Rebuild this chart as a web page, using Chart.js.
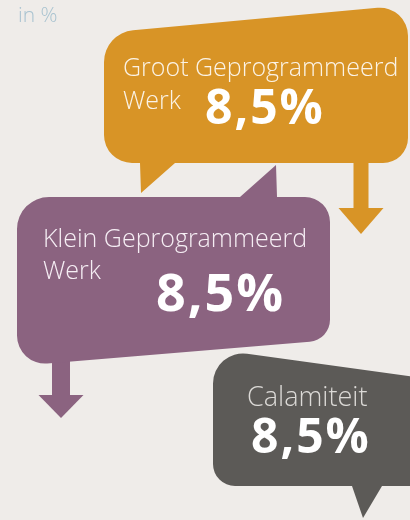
<!DOCTYPE html>
<html>
<head>
<meta charset="utf-8">
<script src="https://cdn.jsdelivr.net/npm/chart.js@4/dist/chart.umd.min.js"></script>
<style>
  html, body { margin: 0; padding: 0; background: #efece9; }
  #wrap { width: 410px; height: 520px; }
</style>
</head>
<body>
<div id="wrap"><canvas id="myChart" width="410" height="520"></canvas></div>
<script>
// data
const unitLabel = "in %";
const categories = ["Groot Geprogrammeerd Werk", "Klein Geprogrammeerd Werk", "Calamiteit"];
const values = [8.5, 8.5, 8.5];

// looks of each bubble (layout only)
const bubbles = [
  {
    color: "#d89426",
    shape: [[104, 33, 32], [408, 5, 28], [408, 163, 25], [175, 163, 0], [141, 193, 0], [140, 163, 0], [104, 163, 28]],
    arrow: { x: 361, shaft: 15, top: 160, headY: 208, head: 45, tip: 234 },
    lines: [[123, 76], [123, 109]],
    lineWrap: ["Groot Geprogrammeerd", "Werk"],
    labelSize: 25,
    value: { x: 205, y: 124, size: 48 },
    textColor: "#fbf3e6"
  },
  {
    color: "#8b6380",
    shape: [[17, 197, 32], [240, 197, 0], [276, 165, 0], [277, 197, 0], [330, 197, 25], [330, 340, 22], [17, 366, 28]],
    arrow: { x: 61, shaft: 18, top: 355, headY: 395, head: 45, tip: 418 },
    lines: [[43, 247], [43, 279]],
    lineWrap: ["Klein Geprogrammeerd", "Werk"],
    labelSize: 25,
    value: { x: 156, y: 311, size: 52 },
    textColor: "#f6eef4"
  },
  {
    color: "#5c5a57",
    shape: [[213, 349, 30], [422, 378, 0], [422, 486, 0], [382, 486, 0], [363, 518, 0], [352, 486, 0], [213, 486, 22]],
    arrow: null,
    lines: [[247, 406]],
    lineWrap: ["Calamiteit"],
    labelSize: 27,
    value: { x: 251, y: 453, size: 48 },
    textColor: "#dcdad7"
  }
];

function roundedPath(ctx, pts) {
  const n = pts.length;
  const a = pts[n - 1], b = pts[0];
  ctx.beginPath();
  ctx.moveTo((a[0] + b[0]) / 2, (a[1] + b[1]) / 2);
  for (let i = 0; i < n; i++) {
    const p = pts[i], q = pts[(i + 1) % n];
    ctx.arcTo(p[0], p[1], q[0], q[1], p[2]);
  }
  ctx.closePath();
}

const bubblePlugin = {
  id: "bubbles",
  beforeDraw(chart) {
    const ctx = chart.ctx;
    ctx.save();
    ctx.fillStyle = "#efece9";
    ctx.fillRect(0, 0, chart.width, chart.height);

    ctx.fillStyle = "#a9c3d0";
    ctx.font = "300 21px 'Open Sans'";
    ctx.textBaseline = "alphabetic";
    ctx.fillText(unitLabel, 18, 22);

    const meta = chart.getDatasetMeta(0);
    meta.data.forEach((el, i) => {
      const b = bubbles[i];
      const v = chart.data.datasets[0].data[i];
      ctx.fillStyle = b.color;
      if (b.arrow) {
        const a = b.arrow;
        ctx.fillRect(a.x - a.shaft / 2, a.top, a.shaft, a.headY - a.top);
        ctx.beginPath();
        ctx.moveTo(a.x - a.head / 2, a.headY);
        ctx.lineTo(a.x + a.head / 2, a.headY);
        ctx.lineTo(a.x, a.tip);
        ctx.closePath();
        ctx.fill();
      }
      roundedPath(ctx, b.shape);
      ctx.fill();

      ctx.fillStyle = b.textColor;
      ctx.letterSpacing = "0px";
      ctx.font = "300 " + b.labelSize + "px 'Open Sans'";
      b.lineWrap.forEach((t, j) => ctx.fillText(t, b.lines[j][0], b.lines[j][1]));
      ctx.fillStyle = "#ffffff";
      ctx.letterSpacing = "2px";
      ctx.font = "700 " + b.value.size + "px 'Open Sans'";
      const txt = v.toLocaleString("nl-NL", { minimumFractionDigits: 1 }) + "%";
      ctx.fillText(txt, b.value.x, b.value.y);
    });
    ctx.restore();
  }
};

new Chart(document.getElementById("myChart"), {
  type: "bar",
  data: {
    labels: categories,
    datasets: [{ data: values, backgroundColor: "rgba(0,0,0,0)" }]
  },
  options: {
    responsive: false,
    animation: false,
    events: [],
    plugins: { legend: { display: false }, tooltip: { enabled: false } },
    scales: { x: { display: false }, y: { display: false, min: 0 } }
  },
  plugins: [bubblePlugin]
});
</script>
</body>
</html>
